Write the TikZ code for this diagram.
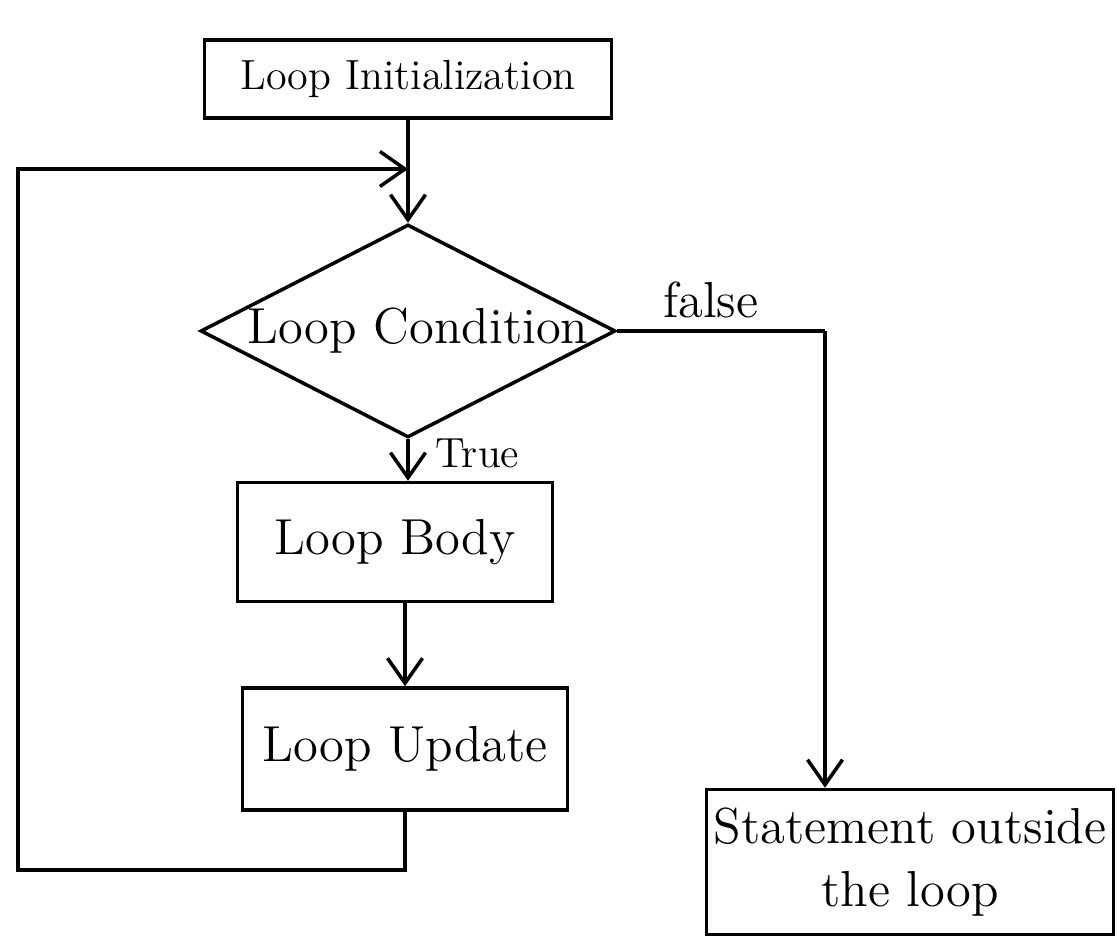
\documentclass[tikz,border=0pt]{standalone}
\usepackage{tikz}
\usetikzlibrary{arrows.meta, calc, positioning, shapes.geometric}

\begin{document}
\begin{tikzpicture}[
    box/.style={rectangle, draw, line width=1pt, align=center, font=\Large, inner sep=2pt},
    decision/.style={diamond, draw, line width=1pt, inner sep=0pt, align=center},
    arrow/.style={-{Straight Barb[length=2.5mm, width=3.5mm]}, line width=1pt},
    line/.style={line width=1pt}
]
    \useasboundingbox (0,0) rectangle (11.17,9.44);

    % 节点
    \node[box, font=\large, minimum width=4.07cm, minimum height=0.78cm] (init) at (4.08,8.65) {Loop Initialization};
    \node[decision, minimum width=4.15cm, minimum height=2.13cm,
          label={[font=\Large, xshift=1mm]center:Loop Condition}] (cond) at (4.08,6.13) {};
    \node[box, minimum width=3.15cm, minimum height=1.19cm] (body) at (3.95,4.02) {Loop Body};
    \node[box, minimum width=3.25cm, minimum height=1.22cm] (update) at (4.05,1.95) {Loop Update};
    \node[box, minimum width=4.0cm, minimum height=1.45cm] (stmt) at (9.1,0.82) {Statement outside\\the loop};

    % 辅助点
    \coordinate (merge) at (init.south |- 0,7.75);
    \coordinate (bend) at (0.18,0.74);
    \coordinate (turn) at (8.25,6.13);

    % 箭头
    \draw[arrow] (init.south) -- (cond.north);
    \draw[arrow] (cond.south) -- node[right, font=\large, xshift=4pt, yshift=2pt] {True} (cond.south |- body.north);
    \draw[arrow] (body.south -| update.north) -- (update.north);
    \draw[arrow] (update.south) -- (update.south |- bend) -- (bend) -- (bend |- merge) -- (merge);
    \draw[line] (cond.east) -- node[above, font=\Large, pos=0.45] {false} (turn);
    \draw[arrow] (turn) -- (turn |- stmt.north);
\end{tikzpicture}
\end{document}
